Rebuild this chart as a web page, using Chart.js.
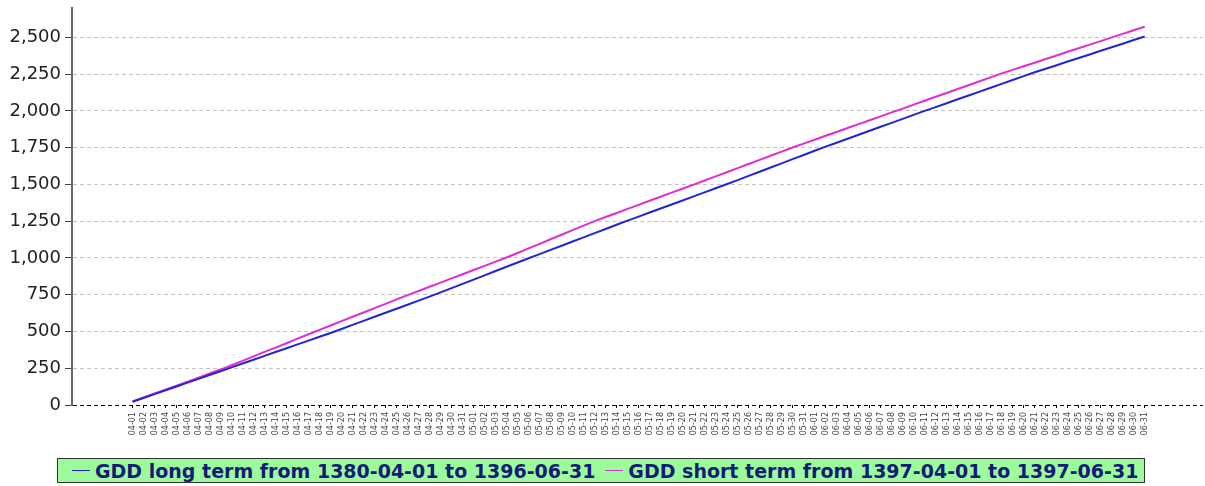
<!DOCTYPE html>
<html>
<head>
<meta charset="utf-8">
<script src="https://cdn.jsdelivr.net/npm/chart.js@4"></script>
<style>
  body { margin: 0; background: #fff; }
  #wrap { position: relative; width: 1205px; height: 486px; }
  #legend {
    position: absolute; left: 57px; top: 458px; width: 1086px; height: 23px;
    background: #9cfc9c; border: 1.5px solid #333;
    font: bold 19px "DejaVu Sans", sans-serif; color: #141a78;
    display: flex; align-items: center; white-space: nowrap;
  }
  #legend span.line { display: inline-block; width: 18px; height: 0; border-top: 1.5px solid; margin: 0 5px 0 0; vertical-align: middle; }
  #legend .item { display: flex; align-items: center; }
</style>
</head>
<body>
<div id="wrap">
  <canvas id="gddChart" width="1205" height="486"></canvas>
  <div id="legend"></div>
</div>
<script>
// x-axis categories (month-day)
var days = [
  "04-01","04-02","04-03","04-04","04-05","04-06","04-07","04-08","04-09","04-10",
  "04-11","04-12","04-13","04-14","04-15","04-16","04-17","04-18","04-19","04-20",
  "04-21","04-22","04-23","04-24","04-25","04-26","04-27","04-28","04-29","04-30","04-31",
  "05-01","05-02","05-03","05-04","05-05","05-06","05-07","05-08","05-09","05-10",
  "05-11","05-12","05-13","05-14","05-15","05-16","05-17","05-18","05-19","05-20",
  "05-21","05-22","05-23","05-24","05-25","05-26","05-27","05-28","05-29","05-30","05-31",
  "06-01","06-02","06-03","06-04","06-05","06-06","06-07","06-08","06-09","06-10",
  "06-11","06-12","06-13","06-14","06-15","06-16","06-17","06-18","06-19","06-20",
  "06-21","06-22","06-23","06-24","06-25","06-26","06-27","06-28","06-29","06-30","06-31"
];

// y-axis tick values
var yTicks = [0, 250, 500, 750, 1000, 1250, 1500, 1750, 2000, 2250, 2500];

// cumulative GDD, long term average
var longTerm = [
  22, 48, 74, 100, 126, 152, 178, 204, 230, 256,
  282, 308, 334, 360, 386, 412, 438, 464, 490, 517,
  545, 572, 600, 627, 655, 682, 710, 737, 766, 795, 824,
  853, 882, 911, 940, 969, 998, 1026, 1055, 1083, 1112,
  1140, 1169, 1197, 1226, 1254, 1281, 1309, 1336, 1364, 1391,
  1419, 1446, 1474, 1501, 1529, 1558, 1586, 1615, 1643, 1672, 1700,
  1729, 1757, 1784, 1811, 1838, 1865, 1892, 1919, 1946, 1973,
  2000, 2026, 2052, 2079, 2105, 2131, 2158, 2184, 2210, 2237,
  2263, 2287, 2311, 2336, 2360, 2384, 2409, 2433, 2457, 2482, 2506
];

// cumulative GDD, short term (1397)
var shortTerm = [
  25, 51, 78, 104, 132, 159, 186, 214, 241, 270,
  300, 331, 361, 390, 420, 451, 481, 511, 541, 570,
  600, 629, 659, 688, 718, 747, 775, 804, 832, 861, 889,
  918, 946, 975, 1003, 1034, 1065, 1096, 1127, 1158, 1189,
  1220, 1251, 1279, 1306, 1334, 1361, 1389, 1416, 1444, 1471,
  1499, 1527, 1555, 1583, 1611, 1639, 1667, 1695, 1723, 1751, 1778,
  1804, 1831, 1857, 1884, 1910, 1937, 1963, 1990, 2016, 2043,
  2069, 2096, 2122, 2149, 2175, 2202, 2228, 2255, 2279, 2304,
  2328, 2353, 2377, 2402, 2426, 2451, 2475, 2500, 2524, 2549, 2573
];

var seriesNames = [
  "GDD long term from 1380-04-01 to 1396-06-31",
  "GDD short term from 1397-04-01 to 1397-06-31"
];
var seriesColors = ["#2323d8", "#e22cd0"];

function toPoints(arr) {
  return arr.map(function (v, i) { return { x: i, y: v }; });
}

var ctx = document.getElementById("gddChart").getContext("2d");

var gddChart = new Chart(ctx, {
  type: "line",
  data: {
    datasets: [
      { label: seriesNames[0], data: toPoints(longTerm), borderColor: seriesColors[0], borderWidth: 2, pointRadius: 0, tension: 0 },
      { label: seriesNames[1], data: toPoints(shortTerm), borderColor: seriesColors[1], borderWidth: 2, pointRadius: 0, tension: 0 }
    ]
  },
  options: {
    responsive: false,
    animation: false,
    layout: { padding: { top: 8, right: 2, left: 0, bottom: 0 } },
    plugins: { legend: { display: false }, tooltip: { enabled: false } },
    scales: {
      x: {
        type: "linear",
        min: -5.5,
        max: 97.3,
        afterBuildTicks: function (scale) {
          scale.ticks = days.map(function (d, i) { return { value: i }; });
        },
        afterFit: function (scale) { scale.height = 81; scale.paddingLeft = 0; scale.paddingRight = 0; },
        ticks: {
          autoSkip: false, minRotation: 90, maxRotation: 90, padding: 4,
          color: "#444", font: { family: "DejaVu Sans", size: 8 },
          callback: function (v) { return days[v]; }
        },
        grid: { display: true, drawOnChartArea: false, drawTicks: true, tickLength: 3, tickColor: "#000" },
        border: { display: false }
      },
      y: {
        min: 0,
        max: 2700,
        afterBuildTicks: function (scale) {
          scale.ticks = yTicks.map(function (v) { return { value: v }; });
        },
        afterFit: function (scale) { scale.width = 72; scale.paddingTop = 0; scale.paddingBottom = 0; },
        ticks: {
          padding: 4,
          color: "#222", font: { family: "DejaVu Sans", size: 18 },
          callback: function (v) { return v.toLocaleString("en-US"); }
        },
        grid: {
          color: function (c) { return c.tick && c.tick.value === 0 ? "#000" : "#c4c4c4"; },
          lineWidth: 1, tickLength: 7, tickColor: "#444", tickBorderDash: []
        },
        border: { display: true, color: "#666", width: 2, dash: [4, 3] }
      }
    }
  }
});

// legend box under the chart
var legend = document.getElementById("legend");
seriesNames.forEach(function (name, i) {
  var item = document.createElement("div");
  item.className = "item";
  item.style.marginLeft = i === 0 ? "14px" : "10px";
  item.innerHTML = '<span class="line" style="border-color:' + seriesColors[i] + '"></span>' + name;
  legend.appendChild(item);
});
</script>
</body>
</html>
